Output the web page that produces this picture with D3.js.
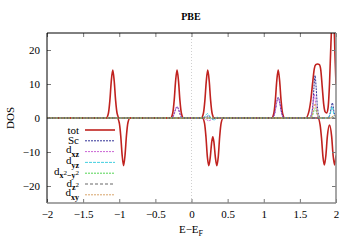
<html>
<head>
	<meta charset="utf-8">
	<script src="https://d3js.org/d3.v7.min.js"></script>
	<style>
		body { margin: 0; background: #fff; }
	</style>
</head>
<body>
	<div id="chart"></div>
	<script type="text/javascript">

		// E - E_F ticks and DOS ticks
		var energyTicks = [-2, -1.5, -1, -0.5, 0, 0.5, 1, 1.5, 2];
		var dosTicks = [-20, -10, 0, 10, 20];

		// total DOS, spin up and spin down, [E, DOS]
		var totUp = [
			[-2, 0],
			[-1.18, 0], [-1.15, 1.4], [-1.13, 5.1], [-1.11, 10.9], [-1.09, 14.1], [-1.07, 10.9], [-1.05, 5.1], [-1.03, 1.4], [-1.0, 0],
			[-0.29, 0], [-0.26, 1.4], [-0.24, 5.1], [-0.22, 10.9], [-0.20, 14.1], [-0.18, 10.9], [-0.16, 5.1], [-0.14, 1.4], [-0.11, 0],
			[0.135, 0], [0.165, 1.4], [0.185, 5.1], [0.205, 10.9], [0.225, 14.1], [0.245, 10.9], [0.265, 5.1], [0.285, 1.4], [0.315, 0],
			[1.11, 0], [1.14, 1.4], [1.16, 5.1], [1.18, 10.9], [1.20, 14.1], [1.22, 10.9], [1.24, 5.1], [1.26, 1.4], [1.29, 0],
			[1.58, 0], [1.62, 1.5], [1.65, 5], [1.68, 11], [1.70, 14.5], [1.72, 15.7], [1.745, 15.9], [1.77, 15.7], [1.79, 14],
			[1.81, 9], [1.83, 4], [1.85, 1.8], [1.87, 1.5], [1.89, 3], [1.91, 10], [1.93, 22], [1.95, 30], [1.97, 28], [1.99, 16], [2.0, 10]
		];
		var totDn = [
			[-2, 0],
			[-1.03, 0], [-1.0, -1.4], [-0.98, -5.1], [-0.96, -10.9], [-0.94, -14.0], [-0.92, -10.9], [-0.90, -5.1], [-0.88, -1.4], [-0.85, 0],
			[0.15, 0], [0.18, -1.5], [0.20, -5.5], [0.22, -11.5], [0.24, -14.0], [0.26, -11.5], [0.28, -7], [0.295, -5.5], [0.31, -7],
			[0.33, -11.5], [0.35, -14.0], [0.37, -11.5], [0.39, -5.5], [0.41, -1.5], [0.44, 0],
			[1.75, 0], [1.78, -2], [1.80, -6], [1.82, -11.5], [1.84, -13.8], [1.86, -11], [1.88, -5.5], [1.91, -2.1],
			[1.94, -5.5], [1.96, -11], [1.98, -13.8], [2.0, -11]
		];

		// projected DOS
		var scDos = [
			[-2, 0],
			[-0.29, 0], [-0.26, 0.3], [-0.24, 1.2], [-0.22, 2.6], [-0.20, 3.3], [-0.18, 2.6], [-0.16, 1.2], [-0.14, 0.3], [-0.11, 0],
			[0.15, 0], [0.20, 0.3], [0.23, 0.6], [0.26, 0.2], [0.30, -0.3], [0.34, 0],
			[1.11, 0], [1.14, 0.6], [1.16, 2.2], [1.18, 4.7], [1.20, 6.1], [1.22, 4.7], [1.24, 2.2], [1.26, 0.6], [1.29, 0],
			[1.63, 0], [1.66, 1], [1.68, 4], [1.695, 9], [1.71, 12.5], [1.725, 9], [1.74, 4], [1.76, 1], [1.79, 0],
			[1.89, 0], [1.92, 1.5], [1.95, 4.4], [1.975, 1.5], [2.0, 0.3]
		];
		var dxzDos = [
			[-2, 0],
			[-0.29, 0], [-0.26, 0.3], [-0.24, 1.2], [-0.22, 2.6], [-0.20, 3.3], [-0.18, 2.6], [-0.16, 1.2], [-0.14, 0.3], [-0.11, 0],
			[0.15, 0], [0.20, -0.4], [0.24, -0.8], [0.28, -0.4], [0.32, 0],
			[1.11, 0], [1.14, 0.6], [1.16, 2.2], [1.18, 4.6], [1.20, 5.9], [1.22, 4.6], [1.24, 2.2], [1.26, 0.6], [1.29, 0],
			[1.63, 0], [1.66, 1], [1.68, 3.5], [1.70, 7], [1.72, 4], [1.74, 1], [1.77, 0],
			[2.0, 0]
		];
		var dyzDos = [
			[-2, 0],
			[0.15, 0], [0.19, 0.6], [0.22, 1.3], [0.25, 0.6], [0.28, -0.2], [0.32, -0.6], [0.35, 0.3], [0.38, 0],
			[1.89, 0], [1.92, 1.2], [1.945, 3.3], [1.97, 1.2], [2.0, 0.2]
		];
		var dx2y2Dos = [
			[-2, 0],
			[1.64, 0], [1.67, 0.5], [1.69, 1.8], [1.71, 2.8], [1.73, 1.8], [1.75, 0.5], [1.78, 0],
			[2.0, 0]
		];
		var dz2Dos = [
			[-2, 0],
			[1.92, 0], [1.95, 0.4], [1.98, 0],
			[2.0, 0]
		];
		var dxyDos = [
			[-2, 0],
			[1.64, 0], [1.67, 0.8], [1.69, 2.8], [1.71, 4.2], [1.73, 2.8], [1.75, 0.8], [1.78, 0],
			[1.93, 0], [1.97, 0.8], [2.0, 0.3]
		];

		var series = [
			{name: 'tot', sub: '', data: [totUp, totDn], color: '#c0221f', width: 1.6, dash: null},
			{name: 'Sc', sub: '', data: [scDos], color: '#1b1b8a', width: 0.9, dash: '2,1'},
			{name: 'd', sub: 'xz', data: [dxzDos], color: '#c452cf', width: 0.9, dash: '2,1'},
			{name: 'd', sub: 'yz', data: [dyzDos], color: '#2ec9db', width: 0.9, dash: '3,1'},
			{name: 'd', sub: 'x2y2', data: [dx2y2Dos], color: '#3fcf3f', width: 0.9, dash: '2,1'},
			{name: 'd', sub: 'z2', data: [dz2Dos], color: '#555555', width: 0.9, dash: '3,2'},
			{name: 'd', sub: 'xy', data: [dxyDos], color: '#d49a5a', width: 0.9, dash: '2,1'}
		];

		var W = 356, H = 249;
		var pLeft = 47, pRight = 336, pTop = 33, pBottom = 203;
		var serif = '"Liberation Serif", "Times New Roman", "DejaVu Serif", serif';

		var x = d3.scaleLinear().domain([-2, 2]).range([pLeft, pRight]);
		var y = d3.scaleLinear().domain([-25, 25]).range([pBottom, pTop]);

		var minus = (d) => String(d).replace('-', '\u2212');

		var svg = d3.select('#chart')
			.append('svg')
				.attr('width', W)
				.attr('height', H);

		svg.append('clipPath').attr('id', 'clip')
			.append('rect')
				.attr('x', pLeft).attr('y', pTop)
				.attr('width', pRight - pLeft).attr('height', pBottom - pTop);

		// E = E_F marker
		svg.append('line')
			.attr('x1', x(0)).attr('x2', x(0))
			.attr('y1', pTop).attr('y2', pBottom)
			.attr('stroke', '#d0d0d0')
			.attr('stroke-dasharray', '1,2');

		var line = d3.line()
			.x((d) => x(d[0]))
			.y((d) => y(d[1]))
			.curve(d3.curveMonotoneX);

		var plot = svg.append('g').attr('clip-path', 'url(#clip)');
		series.forEach((s) => {
			s.data.forEach((arr) => {
				plot.append('path')
					.attr('d', line(arr))
					.attr('fill', 'none')
					.attr('stroke', s.color)
					.attr('stroke-width', s.width)
					.attr('stroke-dasharray', s.dash);
			});
		});

		// axes, ticks pointing inward
		var tickColor = '#777';
		var gx = svg.append('g').attr('transform', 'translate(0,' + pBottom + ')')
			.call(d3.axisBottom(x).tickValues(energyTicks).tickSize(-4).tickFormat(minus));
		gx.select('.domain').remove();
		gx.selectAll('line').attr('stroke', tickColor);
		gx.selectAll('text').attr('y', 7).attr('dy', '0.71em').style('font-size', '11px');

		var gxt = svg.append('g').attr('transform', 'translate(0,' + pTop + ')')
			.call(d3.axisTop(x).tickValues(energyTicks).tickSize(-4).tickFormat(''));
		gxt.select('.domain').remove();
		gxt.selectAll('line').attr('stroke', tickColor);

		var gy = svg.append('g').attr('transform', 'translate(' + pLeft + ',0)')
			.call(d3.axisLeft(y).tickValues(dosTicks).tickSize(-4).tickFormat(minus));
		gy.select('.domain').remove();
		gy.selectAll('line').attr('stroke', tickColor);
		gy.selectAll('text').attr('x', -7).style('font-size', '11px');

		var gyr = svg.append('g').attr('transform', 'translate(' + pRight + ',0)')
			.call(d3.axisRight(y).tickValues(dosTicks).tickSize(-4).tickFormat(''));
		gyr.select('.domain').remove();
		gyr.selectAll('line').attr('stroke', tickColor);

		// frame
		svg.append('line').attr('x1', pLeft).attr('x2', pRight).attr('y1', pTop).attr('y2', pTop).attr('stroke', '#000');
		svg.append('line').attr('x1', pLeft).attr('x2', pLeft).attr('y1', pTop).attr('y2', pBottom).attr('stroke', '#000');
		svg.append('line').attr('x1', pLeft).attr('x2', pRight).attr('y1', pBottom).attr('y2', pBottom).attr('stroke', '#888').attr('stroke-width', 1.5);
		svg.append('line').attr('x1', pRight).attr('x2', pRight).attr('y1', pTop).attr('y2', pBottom).attr('stroke', '#888').attr('stroke-width', 1.5);

		// legend
		var leg = svg.append('g');
		series.forEach((s, i) => {
			var ly = 130 + i * 10.8;
			var t = leg.append('text')
				.attr('x', 79).attr('y', ly + 3.5)
				.attr('text-anchor', 'end')
				.style('font-size', '11px');
			if (s.sub === '') {
				t.text(s.name);
			} else if (s.sub === 'x2y2') {
				t.append('tspan').attr('dy', -2).text('d');
				t.append('tspan').attr('dy', 3).style('font-size', '8px').style('font-weight', 'bold').text('x');
				t.append('tspan').attr('dy', -3).style('font-size', '7px').text('2');
				t.append('tspan').attr('dy', 3).style('font-size', '8px').style('font-weight', 'bold').text('\u2212y');
				t.append('tspan').attr('dy', -3).style('font-size', '7px').text('2');
			} else if (s.sub === 'z2') {
				t.append('tspan').attr('dy', -1).text('d');
				t.append('tspan').attr('dy', 3).style('font-size', '8px').style('font-weight', 'bold').text('z');
				t.append('tspan').attr('dy', -3).style('font-size', '7px').text('2');
			} else {
				t.append('tspan').attr('dy', -2).text(s.name);
				t.append('tspan').attr('dy', 4).style('font-size', '8px').style('font-weight', 'bold').text(s.sub);
			}
			leg.append('line')
				.attr('x1', 85).attr('x2', 115)
				.attr('y1', ly).attr('y2', ly)
				.attr('stroke', s.color)
				.attr('stroke-width', s.width)
				.attr('stroke-dasharray', s.dash);
		});

		// titles
		svg.append('text')
			.attr('x', 191).attr('y', 20)
			.attr('text-anchor', 'middle')
			.style('font-size', '10px').style('font-weight', 'bold')
			.text('PBE');

		svg.append('text')
			.attr('transform', 'translate(14,118) rotate(-90)')
			.attr('text-anchor', 'middle')
			.style('font-size', '11px')
			.text('DOS');

		var xl = svg.append('text')
			.attr('x', 191).attr('y', 233)
			.attr('text-anchor', 'middle')
			.style('font-size', '11px');
		xl.append('tspan').text('E\u2212E');
		xl.append('tspan').attr('dy', 3).style('font-size', '8px').text('F');

		svg.selectAll('text').style('font-family', serif).attr('fill', '#000');

	</script>
</body>
</html>
